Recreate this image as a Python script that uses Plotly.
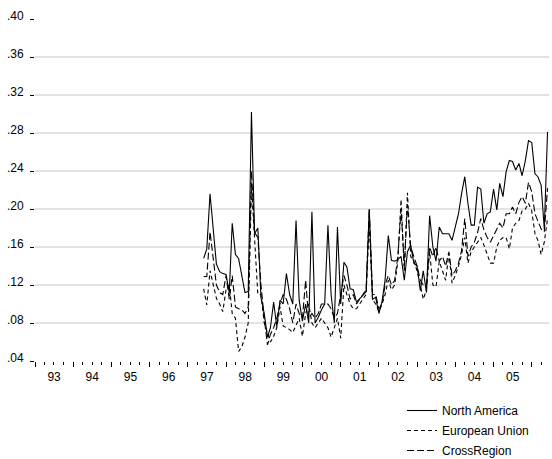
import pandas as pd
import plotly.graph_objects as go

# Monthly sample 1997M06 - 2006M06
start_month = "1997-06-01"
n_months = 109
months = pd.date_range(start_month, periods=n_months, freq="MS")

north_america = [
    0.148, 0.158, 0.216, 0.175, 0.142, 0.134, 0.132, 0.131, 0.112, 0.185,
    0.152, 0.148, 0.130, 0.112, 0.113, 0.302, 0.174, 0.180, 0.107, 0.090,
    0.065, 0.075, 0.102, 0.076, 0.104, 0.100, 0.132, 0.110, 0.100, 0.188,
    0.104, 0.082, 0.100, 0.080, 0.197, 0.080, 0.086, 0.094, 0.100, 0.183,
    0.110, 0.080, 0.181, 0.100, 0.144, 0.139, 0.116, 0.115, 0.102, 0.106,
    0.109, 0.113, 0.200, 0.105, 0.107, 0.090, 0.103, 0.125, 0.172, 0.146,
    0.145, 0.147, 0.150, 0.125, 0.155, 0.162, 0.143, 0.140, 0.114, 0.135,
    0.112, 0.193, 0.160, 0.145, 0.181, 0.174, 0.174, 0.174, 0.167, 0.181,
    0.195, 0.216, 0.234, 0.206, 0.183, 0.183, 0.223, 0.221, 0.185, 0.195,
    0.197, 0.221, 0.199, 0.227, 0.213, 0.239, 0.251, 0.250, 0.241, 0.248,
    0.235, 0.251, 0.272, 0.270, 0.237, 0.234, 0.225, 0.179, 0.281,
]

european_union = [
    0.116, 0.099, 0.135, 0.120, 0.106, 0.100, 0.092, 0.115, 0.120, 0.090,
    0.085, 0.050, 0.055, 0.065, 0.080, 0.225, 0.170, 0.110, 0.110, 0.080,
    0.070, 0.060, 0.066, 0.075, 0.097, 0.077, 0.075, 0.073, 0.070, 0.078,
    0.085, 0.066, 0.090, 0.100, 0.080, 0.075, 0.080, 0.085, 0.080, 0.075,
    0.065, 0.075, 0.085, 0.064, 0.120, 0.110, 0.100, 0.095, 0.095, 0.100,
    0.105, 0.110, 0.185, 0.105, 0.100, 0.092, 0.100, 0.110, 0.125, 0.115,
    0.120, 0.145, 0.210, 0.135, 0.217, 0.150, 0.145, 0.135, 0.120, 0.105,
    0.115, 0.155, 0.120, 0.118, 0.145, 0.135, 0.125, 0.153, 0.122, 0.130,
    0.140, 0.152, 0.170, 0.143, 0.155, 0.160, 0.165, 0.170, 0.162, 0.152,
    0.143, 0.143, 0.160, 0.167, 0.170, 0.170, 0.158, 0.180, 0.185, 0.188,
    0.198, 0.200, 0.206, 0.198, 0.174, 0.167, 0.152, 0.165, 0.190,
]

cross_region = [
    0.129, 0.129, 0.176, 0.150, 0.120, 0.112, 0.110, 0.130, 0.105, 0.130,
    0.097, 0.095, 0.094, 0.090, 0.097, 0.240, 0.175, 0.170, 0.120, 0.085,
    0.057, 0.068, 0.075, 0.085, 0.100, 0.110, 0.105, 0.095, 0.080, 0.100,
    0.090, 0.085, 0.125, 0.085, 0.090, 0.085, 0.090, 0.100, 0.100, 0.100,
    0.095, 0.085, 0.090, 0.110, 0.130, 0.120, 0.105, 0.110, 0.100, 0.105,
    0.110, 0.115, 0.200, 0.110, 0.110, 0.095, 0.100, 0.120, 0.130, 0.120,
    0.125, 0.150, 0.200, 0.140, 0.205, 0.160, 0.150, 0.140, 0.125, 0.120,
    0.120, 0.160, 0.150, 0.160, 0.145, 0.150, 0.140, 0.155, 0.130, 0.135,
    0.143, 0.156, 0.190, 0.150, 0.160, 0.165, 0.175, 0.190, 0.178, 0.170,
    0.165, 0.172, 0.178, 0.185, 0.180, 0.195, 0.195, 0.202, 0.195, 0.207,
    0.213, 0.206, 0.228, 0.218, 0.195, 0.188, 0.179, 0.176, 0.222,
]

series_names = ["North America", "European Union", "CrossRegion"]
y_ticks = [0.04, 0.08, 0.12, 0.16, 0.20, 0.24, 0.28, 0.32, 0.36, 0.40]
y_tick_labels = [".04", ".08", ".12", ".16", ".20", ".24", ".28", ".32", ".36", ".40"]
grid_values = [0.08, 0.12, 0.16, 0.20, 0.24, 0.28, 0.32, 0.36]

FONT = "Liberation Sans, Arial, sans-serif"

fig = go.Figure()
styles = [
    dict(color="black", width=1.1, dash="solid"),
    dict(color="black", width=1.1, dash="4px,3px"),
    dict(color="black", width=1.1, dash="7px,3px"),
]
for name, vals, st in zip(series_names, [north_america, european_union, cross_region], styles):
    fig.add_trace(go.Scatter(x=months, y=vals, mode="lines", name=name, line=st,
                             legendgroup=name))

for g in grid_values:
    fig.add_shape(type="line", xref="paper", x0=0, x1=1, yref="y", y0=g, y1=g,
                  line=dict(color="#c8c8c8", width=1), layer="below")

fig.update_layout(
    width=552, height=459,
    margin=dict(l=35, r=3, t=19, b=98, autoexpand=False),
    paper_bgcolor="white", plot_bgcolor="rgba(0,0,0,0)",
    font=dict(family=FONT, size=12, color="black"),
    showlegend=True,
    legend=dict(x=0.714, y=1 - 396 / 459, yref="container", xanchor="left", yanchor="top",
                bgcolor="rgba(0,0,0,0)", font=dict(size=12, family=FONT),
                traceorder="grouped", tracegroupgap=1, itemwidth=30),
    xaxis=dict(
        type="date",
        range=["1993-01-01", "2006-06-15"],
        showgrid=False, zeroline=False, showline=False,
        dtick="M12", tick0="1993-01-01", tickformat="%y",
        ticklabelmode="period",
        ticks="outside", ticklen=5, tickcolor="black", tickwidth=1,
        ticklabelstandoff=0,
        minor=dict(dtick="M3", ticks="outside", ticklen=3, tickcolor="black", showgrid=False),
        tickfont=dict(size=12, family=FONT),
    ),
    yaxis=dict(
        range=[0.04, 0.40],
        tickvals=y_ticks, ticktext=y_tick_labels,
        showgrid=False, zeroline=False, showline=False,
        ticks="outside", ticklen=4, tickcolor="black",
        ticklabelshift=-3, ticklabelstandoff=4,
        tickfont=dict(size=12, family=FONT),
    ),
)

fig.write_html("out.html")
